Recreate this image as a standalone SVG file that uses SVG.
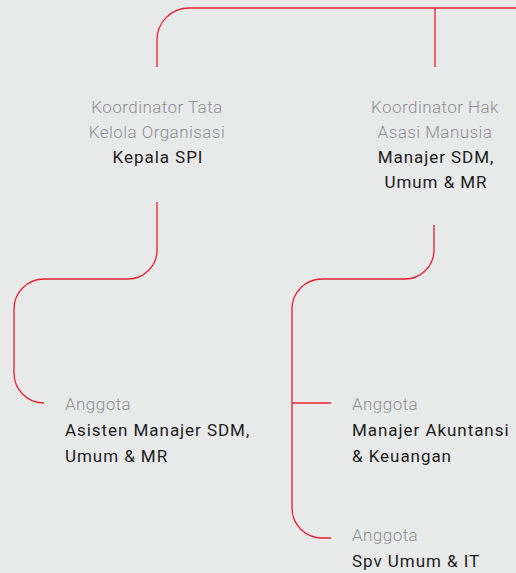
<svg xmlns="http://www.w3.org/2000/svg" width="516" height="573" viewBox="0 0 516 573">
  <style>
    .bg { fill: #e8e9e9; }
    .link { fill: none; stroke: #e8202e; stroke-width: 1.3; }
    text { font-family: Roboto, "Liberation Sans", sans-serif; font-size: 17px; }
    .role { fill: #8d8f91; font-weight: 300; letter-spacing: 0.45px; }
    .name { fill: #1c1c1c; font-weight: 400; letter-spacing: 0.95px; }
    .c { text-anchor: middle; }
  </style>
  <rect class="bg" width="516" height="573"/>

  <g id="connectors">
    <!-- top bus -->
    <path class="link" d="M157,67 V40 A32,32 0 0 1 189,8 H516"/>
    <path class="link" d="M435,8 V67"/>
    <!-- left branch -->
    <path class="link" d="M157,202 V250 A29,29 0 0 1 128,279 H44 A30,30 0 0 0 14,309 V373 A30,30 0 0 0 44,403"/>
    <!-- right branch -->
    <path class="link" d="M434,225 V250 A29,29 0 0 1 405,279 H322 A30,30 0 0 0 292,309 V508 A30,30 0 0 0 322,538 H331"/>
    <path class="link" d="M292,403 H331"/>
  </g>

  <g id="koordinator-tata-kelola">
    <text class="role c" x="157" y="113">Koordinator Tata</text>
    <text class="role c" x="157" y="138">Kelola Organisasi</text>
    <text class="name c" x="158" y="163">Kepala SPI</text>
  </g>

  <g id="koordinator-ham">
    <text class="role c" x="435" y="113">Koordinator Hak</text>
    <text class="role c" x="435" y="138">Asasi Manusia</text>
    <text class="name c" x="436" y="163">Manajer SDM,</text>
    <text class="name c" x="436" y="188">Umum &amp; MR</text>
  </g>

  <g id="anggota-asisten-manajer">
    <text class="role" x="65" y="410">Anggota</text>
    <text class="name" x="65" y="436">Asisten Manajer SDM,</text>
    <text class="name" x="65" y="462">Umum &amp; MR</text>
  </g>

  <g id="anggota-manajer-akuntansi">
    <text class="role" x="352" y="410">Anggota</text>
    <text class="name" x="352" y="436">Manajer Akuntansi</text>
    <text class="name" x="352" y="462">&amp; Keuangan</text>
  </g>

  <g id="anggota-spv-umum">
    <text class="role" x="352" y="541">Anggota</text>
    <text class="name" x="352" y="567">Spv Umum &amp; IT</text>
  </g>
</svg>
